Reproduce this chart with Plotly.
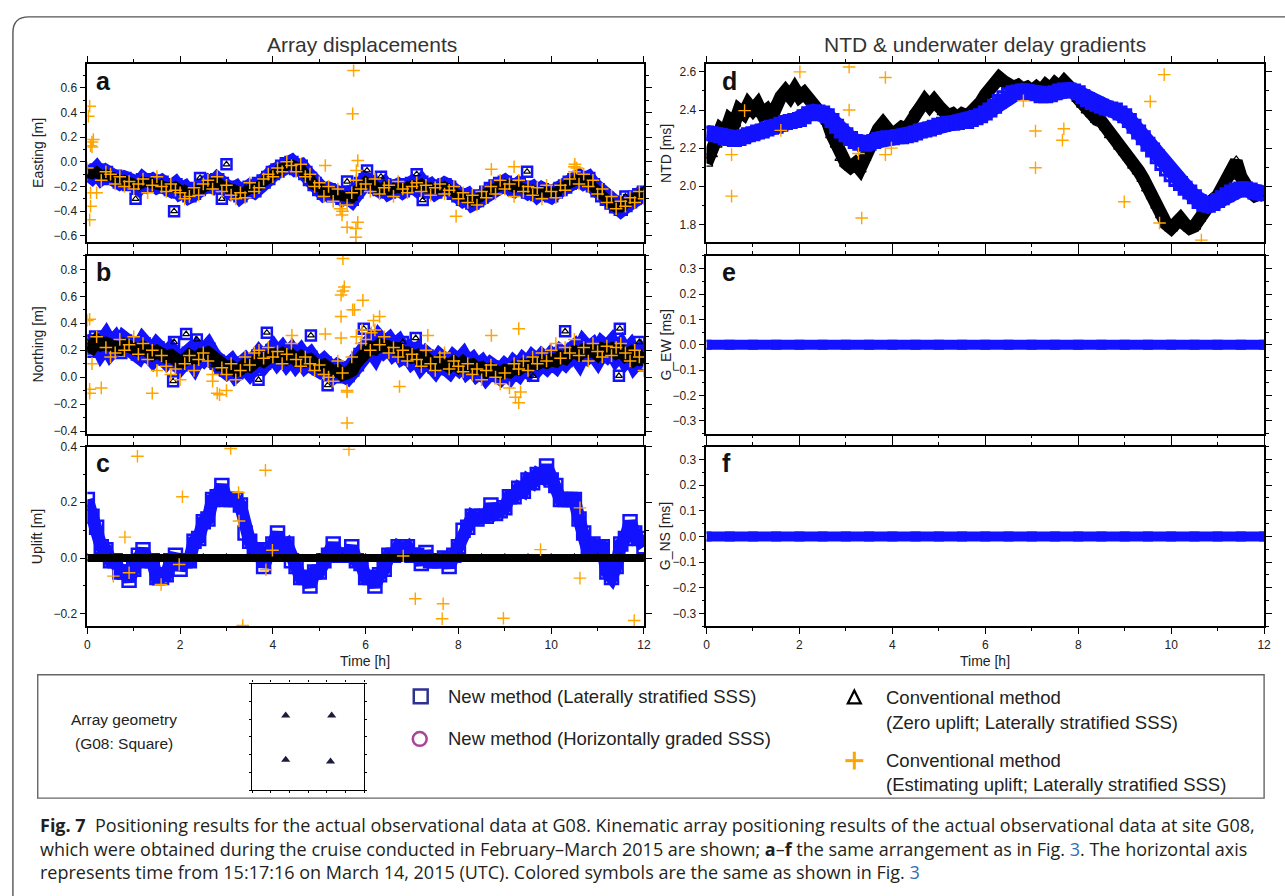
import plotly.graph_objects as go

W, H = 1285, 896


def px(x):
    return x / W


def py(y):
    return 1 - y / H


# ---------------- DATA ----------------
# time grid [h] for the dense series (0.1 h step) and a coarse grid for constant series
t = [round(0.1 * i, 1) for i in range(121)]
t_half = [0.0, 0.5, 1.0, 1.5, 2.0, 2.5, 3.0, 3.5, 4.0, 4.5, 5.0, 5.5, 6.0, 6.5, 7.0, 7.5, 8.0,
          8.5, 9.0, 9.5, 10.0, 10.5, 11.0, 11.5, 12.0]
zero_half = [0.0, 0.0, 0.0, 0.0, 0.0, 0.0, 0.0, 0.0, 0.0, 0.0, 0.0, 0.0, 0.0, 0.0, 0.0, 0.0, 0.0,
             0.0, 0.0, 0.0, 0.0, 0.0, 0.0, 0.0, 0.0]

# (a) Easting [m]
east_new = [
    -0.08, -0.11, -0.07, -0.12, -0.09, -0.13, -0.12, -0.16, -0.14, -0.18,
    -0.17, -0.20, -0.15, -0.18, -0.16, -0.19, -0.17, -0.20, -0.22, -0.19,
    -0.24, -0.22, -0.27, -0.25, -0.22, -0.20, -0.17, -0.19, -0.15, -0.18,
    -0.21, -0.24, -0.22, -0.27, -0.24, -0.21, -0.23, -0.18, -0.16, -0.13,
    -0.09, -0.07, -0.04, -0.02, -0.01, -0.05, -0.04, -0.09, -0.14, -0.18,
    -0.22, -0.25, -0.23, -0.27, -0.26, -0.29, -0.27, -0.30, -0.24, -0.18,
    -0.15, -0.17, -0.20, -0.22, -0.19, -0.24, -0.22, -0.20, -0.23, -0.19,
    -0.18, -0.21, -0.17, -0.22, -0.20, -0.24, -0.22, -0.19, -0.21, -0.25,
    -0.27, -0.30, -0.28, -0.33, -0.31, -0.28, -0.25, -0.22, -0.20, -0.18,
    -0.17, -0.20, -0.22, -0.19, -0.21, -0.24, -0.22, -0.26, -0.23, -0.25,
    -0.27, -0.24, -0.22, -0.20, -0.17, -0.15, -0.13, -0.16, -0.14, -0.19,
    -0.23, -0.27, -0.30, -0.33, -0.36, -0.38, -0.35, -0.32, -0.29, -0.27,
    -0.25]
east_conv0 = [
    -0.09, -0.10, -0.08, -0.11, -0.10, -0.12, -0.13, -0.15, -0.15, -0.17,
    -0.18, -0.19, -0.16, -0.17, -0.17, -0.18, -0.18, -0.21, -0.21, -0.20,
    -0.23, -0.23, -0.26, -0.24, -0.23, -0.21, -0.18, -0.18, -0.16, -0.19,
    -0.20, -0.23, -0.23, -0.26, -0.23, -0.22, -0.22, -0.19, -0.15, -0.12,
    -0.10, -0.06, -0.05, -0.03, -0.02, -0.04, -0.05, -0.10, -0.13, -0.19,
    -0.21, -0.24, -0.24, -0.26, -0.27, -0.28, -0.28, -0.29, -0.23, -0.19,
    -0.16, -0.18, -0.19, -0.23, -0.20, -0.23, -0.21, -0.21, -0.22, -0.20,
    -0.19, -0.20, -0.18, -0.21, -0.21, -0.23, -0.21, -0.20, -0.22, -0.24,
    -0.28, -0.29, -0.29, -0.32, -0.30, -0.27, -0.26, -0.23, -0.21, -0.19,
    -0.18, -0.19, -0.21, -0.20, -0.22, -0.23, -0.23, -0.25, -0.24, -0.24,
    -0.26, -0.25, -0.21, -0.19, -0.16, -0.14, -0.14, -0.15, -0.15, -0.20,
    -0.24, -0.26, -0.31, -0.34, -0.37, -0.37, -0.34, -0.31, -0.28, -0.26,
    -0.24]
east_up = [
    -0.05, 0.12, -0.25, -0.15, -0.08, -0.10, -0.18, -0.12, -0.20, -0.16,
    -0.22, -0.18, -0.14, -0.25, -0.19, -0.12, -0.20, -0.24, -0.18, -0.23,
    -0.25, -0.30, -0.28, -0.21, -0.27, -0.18, -0.15, -0.22, -0.12, -0.24,
    -0.19, -0.27, -0.30, -0.25, -0.29, -0.17, -0.24, -0.21, -0.14, -0.10,
    -0.12, -0.05, -0.08, 0.00, -0.03, -0.08, -0.02, -0.12, -0.10, -0.20,
    -0.17, -0.28, -0.20, -0.32, -0.22, -0.40, -0.35, -0.25, -0.15, -0.22,
    -0.18, -0.24, -0.14, -0.26, -0.21, -0.19, -0.28, -0.16, -0.22, -0.25,
    -0.20, -0.17, -0.24, -0.19, -0.27, -0.21, -0.18, -0.26, -0.23, -0.20,
    -0.30, -0.25, -0.33, -0.27, -0.35, -0.24, -0.29, -0.20, -0.26, -0.15,
    -0.22, -0.18, -0.28, -0.15, -0.24, -0.20, -0.27, -0.21, -0.30, -0.19,
    -0.24, -0.29, -0.19, -0.23, -0.14, -0.04, -0.18, -0.10, -0.20, -0.15,
    -0.26, -0.22, -0.33, -0.28, -0.38, -0.32, -0.36, -0.29, -0.33, -0.24,
    -0.30]
east_iso_t = [1.87, 1.04, 3.00, 2.43, 2.90, 5.60, 6.03, 6.33, 7.10, 7.23, 9.48, 11.60]
east_iso_v = [-0.40, -0.30, -0.02, -0.13, -0.30, -0.16, -0.07, -0.12, -0.10, -0.31, -0.08, -0.28]
east_up_out_t = [0.05, 0.02, 0.13, 0.07, 0.10, 0.07, 0.07, 0.05, 5.74, 5.72, 5.60, 5.79, 5.79,
                 5.83, 5.83, 5.80, 5.13, 5.49, 5.45, 8.71, 9.20, 7.95, 10.51, 10.50, 10.55]
east_up_out_v = [0.45, 0.37, 0.18, 0.13, 0.16, -0.25, -0.36, -0.47, 0.74, 0.39, -0.53, -0.54, -0.61,
                 -0.49, 0.01, -0.07, -0.03, -0.43, -0.38, -0.06, -0.04, -0.44, -0.02, -0.08, -0.05]

# (b) Northing [m]
north_new = [
    0.26, 0.20, 0.29, 0.22, 0.27, 0.21, 0.25, 0.19, 0.26, 0.22,
    0.23, 0.18, 0.24, 0.20, 0.16, 0.21, 0.17, 0.14, 0.18, 0.12,
    0.10, 0.14, 0.17, 0.12, 0.19, 0.16, 0.20, 0.14, 0.11, 0.08,
    0.06, 0.09, 0.04, 0.07, 0.10, 0.06, 0.12, 0.15, 0.11, 0.17,
    0.19, 0.14, 0.18, 0.13, 0.17, 0.12, 0.16, 0.11, 0.14, 0.09,
    0.07, 0.10, 0.05, 0.03, 0.06, 0.01, 0.02, 0.06, 0.10, 0.16,
    0.20, 0.24, 0.19, 0.26, 0.22, 0.25, 0.20, 0.23, 0.17, 0.19,
    0.14, 0.17, 0.11, 0.15, 0.12, 0.08, 0.13, 0.10, 0.07, 0.12,
    0.09, 0.13, 0.07, 0.10, 0.05, 0.08, 0.03, 0.07, 0.04, 0.02,
    0.06, 0.03, 0.08, 0.05, 0.10, 0.07, 0.12, 0.09, 0.13, 0.10,
    0.14, 0.11, 0.16, 0.13, 0.17, 0.20, 0.15, 0.22, 0.18, 0.21,
    0.16, 0.22, 0.19, 0.23, 0.17, 0.21, 0.15, 0.19, 0.12, 0.16,
    0.10]
north_conv0 = [
    0.24, 0.22, 0.27, 0.24, 0.25, 0.23, 0.23, 0.21, 0.24, 0.23,
    0.21, 0.20, 0.22, 0.19, 0.17, 0.19, 0.16, 0.15, 0.16, 0.13,
    0.11, 0.13, 0.16, 0.14, 0.17, 0.17, 0.18, 0.15, 0.10, 0.07,
    0.07, 0.08, 0.05, 0.06, 0.09, 0.08, 0.11, 0.14, 0.12, 0.16,
    0.17, 0.15, 0.17, 0.14, 0.16, 0.13, 0.15, 0.12, 0.13, 0.10,
    0.08, 0.09, 0.06, 0.04, 0.05, 0.02, 0.03, 0.05, 0.11, 0.15,
    0.21, 0.22, 0.21, 0.24, 0.23, 0.23, 0.21, 0.21, 0.18, 0.18,
    0.15, 0.16, 0.12, 0.14, 0.11, 0.09, 0.12, 0.09, 0.08, 0.11,
    0.08, 0.11, 0.08, 0.09, 0.06, 0.07, 0.04, 0.06, 0.03, 0.03,
    0.05, 0.04, 0.07, 0.06, 0.09, 0.08, 0.11, 0.10, 0.12, 0.11,
    0.13, 0.12, 0.15, 0.14, 0.18, 0.19, 0.17, 0.20, 0.19, 0.20,
    0.17, 0.21, 0.20, 0.21, 0.18, 0.20, 0.16, 0.18, 0.13, 0.15,
    0.11]
north_up = [
    0.42, 0.10, 0.30, -0.08, 0.22, 0.15, 0.18, 0.28, 0.20, 0.24,
    0.30, 0.17, 0.25, 0.13, 0.20, 0.05, 0.16, 0.08, 0.02, 0.06,
    -0.02, 0.10, 0.16, 0.05, 0.13, 0.18, 0.12, 0.02, -0.12, 0.07,
    0.02, 0.10, -0.02, 0.05, 0.15, 0.09, 0.18, 0.20, 0.14, 0.22,
    0.15, 0.19, 0.10, 0.17, 0.25, 0.13, 0.08, 0.15, 0.10, 0.05,
    0.09, 0.02, 0.00, -0.03, 0.12, 0.03, -0.10, 0.15, 0.30, 0.25,
    0.28, 0.20, 0.35, 0.24, 0.30, 0.18, 0.22, 0.15, 0.20, 0.12,
    0.17, 0.13, 0.08, 0.20, 0.10, 0.05, 0.15, 0.18, 0.06, 0.12,
    0.08, 0.04, 0.10, 0.02, 0.06, -0.02, 0.05, 0.09, 0.00, -0.05,
    0.03, -0.08, 0.10, 0.06, 0.12, 0.05, 0.15, 0.10, 0.18, 0.12,
    0.20, 0.25, 0.14, 0.22, 0.18, 0.28, 0.16, 0.22, 0.12, 0.25,
    0.19, 0.15, 0.23, 0.16, 0.22, 0.25, 0.18, 0.12, 0.20, 0.15,
    0.05]
north_iso_t = [1.85, 1.87, 2.13, 2.36, 3.87, 3.69, 4.82, 5.18, 5.63, 5.96, 6.80, 7.08, 9.61,
               10.30, 11.48, 11.46, 11.90]
north_iso_v = [-0.03, 0.26, 0.32, 0.28, 0.33, -0.02, 0.31, -0.06, 0.02, 0.36, 0.26, 0.29, 0.01,
               0.34, 0.36, 0.01, 0.26]
north_up_out_t = [5.51, 5.51, 5.54, 5.47, 5.94, 5.72, 5.76, 5.47, 6.17, 6.30, 5.92, 6.12, 5.60,
                  5.60, 5.47, 9.30, 9.30, 9.23, 9.34, 2.85, 3.00, 6.73, 0.05, 0.05, 0.05, 4.41,
                  7.34, 8.71, 5.13, 1.40, 2.70]
north_up_out_v = [0.88, 0.64, 0.67, 0.61, 0.57, 0.50, 0.50, 0.45, 0.42, 0.45, 0.35, 0.33, -0.34,
                  -0.11, 0.29, 0.36, -0.19, -0.15, -0.11, -0.13, -0.10, -0.07, -0.09, -0.12, 0.43,
                  0.31, 0.31, 0.31, 0.32, -0.12, -0.03]

# (c) Uplift [m]
uplift_new = [
    0.21, 0.15, 0.11, 0.04, 0.03, -0.01, -0.01, -0.05, -0.05, -0.08,
    -0.04, 0.01, 0.03, -0.01, -0.01, -0.07, -0.07, -0.06, -0.01, 0.01,
    -0.04, -0.01, -0.01, 0.06, 0.07, 0.13, 0.14, 0.21, 0.22, 0.26,
    0.21, 0.21, 0.21, 0.19, 0.09, 0.06, 0.03, 0.03, -0.03, 0.03,
    0.05, 0.09, 0.04, 0.05, -0.01, -0.03, -0.07, -0.07, -0.10, -0.05,
    -0.05, -0.01, 0.01, 0.05, 0.01, 0.01, 0.01, 0.04, -0.01, -0.02,
    -0.07, -0.07, -0.10, -0.06, -0.04, 0.01, 0.01, 0.04, 0.03, 0.04,
    0.01, 0.01, -0.02, 0.02, -0.01, -0.01, -0.01, 0.00, -0.03, 0.01,
    0.04, 0.10, 0.11, 0.15, 0.14, 0.15, 0.15, 0.19, 0.16, 0.17,
    0.18, 0.22, 0.22, 0.25, 0.24, 0.28, 0.27, 0.30, 0.29, 0.33,
    0.28, 0.26, 0.21, 0.21, 0.21, 0.21, 0.14, 0.09, 0.02, 0.05,
    0.04, 0.04, -0.05, -0.07, -0.03, 0.05, 0.07, 0.13, 0.09, 0.07,
    0.04]
uplift_conv0 = zero_half
uplift_up_t = [0.81, 1.08, 2.05, 0.56, 0.90, 1.59, 1.98, 3.09, 3.26, 3.27, 3.84, 3.85, 3.99,
               3.35, 5.64, 6.81, 7.07, 7.67, 7.65, 8.97, 9.77, 10.62, 10.62, 11.79]
uplift_up_v = [0.075, 0.365, 0.22, -0.065, -0.053, -0.095, -0.023, 0.393, 0.235, 0.133, 0.315,
               -0.042, 0.028, -0.242, 0.39, 0.007, -0.146, -0.164, -0.218, -0.216, 0.03, 0.18,
               -0.072, -0.224]

# (d) NTD [ms]
ntd_new = [
    2.280, 2.275, 2.270, 2.265, 2.255, 2.250, 2.245, 2.250, 2.260, 2.270,
    2.275, 2.285, 2.290, 2.300, 2.310, 2.315, 2.325, 2.335, 2.340, 2.345,
    2.350, 2.365, 2.380, 2.390, 2.390, 2.385, 2.370, 2.345, 2.315, 2.290,
    2.270, 2.250, 2.235, 2.225, 2.220, 2.225, 2.235, 2.245, 2.250, 2.255,
    2.255, 2.260, 2.260, 2.265, 2.270, 2.280, 2.290, 2.295, 2.300, 2.310,
    2.320, 2.325, 2.330, 2.330, 2.335, 2.340, 2.340, 2.350, 2.360, 2.370,
    2.385, 2.400, 2.420, 2.445, 2.465, 2.480, 2.490, 2.495, 2.500, 2.495,
    2.490, 2.485, 2.475, 2.475, 2.480, 2.490, 2.500, 2.505, 2.505, 2.500,
    2.490, 2.470, 2.455, 2.440, 2.430, 2.420, 2.410, 2.405, 2.400, 2.385,
    2.370, 2.345, 2.315, 2.285, 2.255, 2.220, 2.190, 2.155, 2.120, 2.090,
    2.060, 2.035, 2.015, 1.990, 1.970, 1.945, 1.920, 1.905, 1.900, 1.910,
    1.925, 1.940, 1.955, 1.970, 1.980, 1.985, 1.985, 1.980, 1.970, 1.965,
    1.960]
ntd_conv0 = [
    2.12, 2.17, 2.22, 2.30, 2.28, 2.35, 2.33, 2.40, 2.38, 2.43,
    2.40, 2.43, 2.38, 2.40, 2.36, 2.44, 2.47, 2.50, 2.47, 2.51,
    2.47, 2.49, 2.46, 2.44, 2.41, 2.38, 2.34, 2.27, 2.22, 2.15,
    2.12, 2.10, 2.12, 2.09, 2.15, 2.22, 2.27, 2.30, 2.33, 2.30,
    2.27, 2.29, 2.31, 2.30, 2.34, 2.40, 2.43, 2.45, 2.42, 2.45,
    2.42, 2.39, 2.37, 2.38, 2.36, 2.38, 2.37, 2.39, 2.41, 2.44,
    2.48, 2.52, 2.55, 2.57, 2.55, 2.53, 2.52, 2.53, 2.51, 2.52,
    2.50, 2.52, 2.50, 2.53, 2.51, 2.54, 2.52, 2.55, 2.53, 2.50,
    2.46, 2.43, 2.40, 2.38, 2.35, 2.34, 2.31, 2.27, 2.25, 2.21,
    2.18, 2.15, 2.11, 2.08, 2.04, 1.99, 1.95, 1.90, 1.85, 1.80,
    1.78, 1.80, 1.83, 1.80, 1.78, 1.79, 1.83, 1.87, 1.90, 1.93,
    1.95, 1.99, 2.05, 2.10, 2.13, 2.05, 2.00, 1.97, 1.95, 1.96,
    1.95]
ntd_up_t = [0.54, 0.54, 0.82, 1.60, 2.01, 3.07, 3.07, 3.27, 3.34, 3.85, 3.85, 3.98, 6.82, 7.08,
            7.08, 7.69, 7.66, 8.99, 9.55, 9.85, 9.75, 10.65]
ntd_up_v = [2.166, 1.948, 2.397, 2.293, 2.60, 2.626, 2.40, 2.172, 1.833, 2.571, 2.166, 2.20,
            2.448, 2.29, 2.097, 2.302, 2.241, 1.919, 2.445, 2.586, 1.807, 1.717]

# (e), (f) underwater delay gradients [ms]
gew_new = zero_half
gns_new = zero_half

# array geometry (G08, square), normalised transponder positions
geom_x = [-0.40, 0.42, -0.40, 0.40]
geom_y = [0.40, 0.40, -0.43, -0.46]

# ---------------- STYLE ----------------
BLUE = "#1212ff"
ORANGE = "#ffa500"
FONT = "Liberation Sans, Arial, sans-serif"

fig = go.Figure()


def sq(x, y, ax, size=9, lw=2.2, mode="markers", linew=0):
    d = dict(x=x, y=y, xaxis="x" + ax, yaxis="y" + ax, mode=mode, showlegend=False,
             hoverinfo="skip",
             marker=dict(symbol="square-open", size=size, color=BLUE, line=dict(width=lw, color=BLUE)))
    if linew:
        d["line"] = dict(color=BLUE, width=linew)
    fig.add_trace(go.Scatter(**d))


def tri(x, y, ax, size=7, lw=1.3, mode="markers", linew=0):
    d = dict(x=x, y=y, xaxis="x" + ax, yaxis="y" + ax, mode=mode, showlegend=False,
             hoverinfo="skip",
             marker=dict(symbol="triangle-up-open", size=size, color="black",
                         line=dict(width=lw, color="black")))
    if linew:
        d["line"] = dict(color="black", width=linew)
    fig.add_trace(go.Scatter(**d))


def cross(x, y, ax, size=8, lw=1.3):
    fig.add_trace(go.Scatter(x=x, y=y, xaxis="x" + ax, yaxis="y" + ax, mode="markers",
                             showlegend=False, hoverinfo="skip",
                             marker=dict(symbol="cross-thin-open", size=size, color=ORANGE,
                                         line=dict(width=lw, color=ORANGE))))


# panel a (axis "")
sq(t, east_new, "", size=12, lw=2.5, mode="lines+markers", linew=17)
sq(east_iso_t, east_iso_v, "", size=10, lw=2.5)
tri(t, east_conv0, "", size=10, lw=1.4, mode="lines+markers", linew=10)
tri(east_iso_t, east_iso_v, "", size=6, lw=1.2)
cross(t, east_up, "", size=9, lw=1.5)
cross(east_up_out_t, east_up_out_v, "", size=9, lw=1.5)

# panel b
sq(t, north_new, "2", size=13, lw=2.5, mode="lines+markers", linew=20)
sq(north_iso_t, north_iso_v, "2", size=10, lw=2.5)
tri(t, north_conv0, "2", size=11, lw=1.4, mode="lines+markers", linew=13)
tri(north_iso_t, north_iso_v, "2", size=6, lw=1.2)
cross(t, north_up, "2", size=9, lw=1.5)
cross(north_up_out_t, north_up_out_v, "2", size=9, lw=1.5)

# panel c
sq(t, uplift_new, "3", size=13, lw=2.5, mode="lines+markers", linew=13)
tri(t_half, uplift_conv0, "3", size=8, mode="lines+markers", linew=8)
cross(uplift_up_t, uplift_up_v, "3", size=9, lw=1.4)

# panel d
tri(t, ntd_conv0, "4", size=11, lw=1.3, mode="lines+markers", linew=13)
sq(t, ntd_new, "4", size=12, lw=3, mode="lines+markers", linew=16)
cross(ntd_up_t, ntd_up_v, "4", size=9, lw=1.4)

# panels e, f
sq(t_half, gew_new, "5", size=8, lw=2, mode="lines+markers", linew=10)
sq(t_half, gns_new, "6", size=8, lw=2, mode="lines+markers", linew=10)

# array geometry
fig.add_trace(go.Scatter(x=geom_x, y=geom_y, xaxis="x7", yaxis="y7", mode="markers",
                         showlegend=False, hoverinfo="skip",
                         marker=dict(symbol="triangle-up", size=8, color="#1b1b3a")))

# ---------------- AXES ----------------
tickfont = dict(family=FONT, size=12, color="#222")


def xax(dom, anchor, labels):
    return dict(domain=dom, anchor=anchor, range=[0, 12], dtick=2, tick0=0,
                showline=True, linecolor="black", linewidth=1.6, mirror="ticks",
                ticks="outside", ticklen=6, tickwidth=1.2, tickcolor="black",
                showticklabels=labels, showgrid=False, zeroline=False, tickfont=tickfont,
                minor=dict(dtick=1, tick0=0, ticks="outside", ticklen=3, tickwidth=1.0,
                           tickcolor="black", showgrid=False))


def yax(dom, anchor, rng, dt, mdt):
    return dict(domain=dom, anchor=anchor, range=rng, dtick=dt, tick0=0, tickformat=".1f",
                showline=True, linecolor="black", linewidth=1.6, mirror="ticks",
                ticks="outside", ticklen=6, tickwidth=1.2, tickcolor="black",
                showgrid=False, zeroline=False, tickfont=tickfont,
                minor=dict(dtick=mdt, tick0=0, ticks="outside", ticklen=3, tickwidth=1.0,
                           tickcolor="black", showgrid=False))


XL = [px(85), px(646)]
XR = [px(709), px(1271)]
YA = [py(238), py(58)]
YB = [py(432), py(252)]
YC = [py(627), py(445)]

layout = dict(
    width=W, height=H, margin=dict(l=0, r=0, t=0, b=0),
    paper_bgcolor="white", plot_bgcolor="white", showlegend=False,
    font=dict(family=FONT, color="#222"),
    xaxis=xax(XL, "y", False), yaxis=yax(YA, "x", [-0.65, 0.79], 0.2, 0.1),
    xaxis2=xax(XL, "y2", False), yaxis2=yax(YB, "x2", [-0.42, 0.90], 0.2, 0.1),
    xaxis3=xax(XL, "y3", True), yaxis3=yax(YC, "x3", [-0.245, 0.40], 0.2, 0.1),
    xaxis4=xax(XR, "y4", False), yaxis4=yax(YA, "x4", [1.707, 2.64], 0.2, 0.1),
    xaxis5=xax(XR, "y5", False), yaxis5=yax(YB, "x5", [-0.35, 0.35], 0.1, 0.05),
    xaxis6=xax(XR, "y6", True), yaxis6=yax(YC, "x6", [-0.35, 0.35], 0.1, 0.05),
    xaxis7=dict(domain=[px(251), px(364)], anchor="y7", range=[-1, 1], dtick=1 / 3, tick0=-1,
                showline=True, linecolor="black", linewidth=1.4, mirror="ticks",
                ticks="outside", ticklen=2, tickwidth=1, tickcolor="black",
                showticklabels=False, showgrid=False, zeroline=False),
    yaxis7=dict(domain=[py(793), py(685)], anchor="x7", range=[-1, 1], dtick=1 / 3, tick0=-1,
                showline=True, linecolor="black", linewidth=1.4, mirror="ticks",
                ticks="outside", ticklen=2, tickwidth=1, tickcolor="black",
                showticklabels=False, showgrid=False, zeroline=False),
)
fig.update_layout(**layout)

# ---------------- ANNOTATIONS ----------------
ann = []


def text(x, y, s, size=14, xanchor="center", angle=0, bold=False, family=FONT, color="#222"):
    ann.append(dict(x=px(x), y=py(y), xref="paper", yref="paper", text=("<b>%s</b>" % s) if bold else s,
                    showarrow=False, xanchor=xanchor, yanchor="middle", textangle=angle,
                    font=dict(family=family, size=size, color=color)))


text(362, 38, "Array displacements", size=21, color="#333")
text(990, 38, "NTD &amp; underwater delay gradients", size=21, color="#333")
for lab, x, y in [("a", 92, 75), ("b", 92, 268), ("c", 92, 462),
                  ("d", 723, 75), ("e", 723, 268), ("f", 723, 462)]:
    text(x, y, lab, size=25, xanchor="left", bold=True, color="#111")
for lab, x, y in [("Easting [m]", 35, 148), ("Northing [m]", 35, 342), ("Uplift [m]", 35, 536),
                  ("NTD [ms]", 668, 148), ("G_EW [ms]", 668, 342), ("G_NS [ms]", 668, 536)]:
    text(x, y, lab, size=14, angle=-90)
text(365, 662, "Time [h]", size=14)
text(990, 662, "Time [h]", size=14)

# legend texts
LG = 18.5
text(122, 721, "Array geometry", size=15.5)
text(122, 746, "(G08: Square)", size=15.5)
text(446, 698, "New method (Laterally stratified SSS)", size=LG, xanchor="left")
text(446, 741, "New method (Horizontally graded SSS)", size=LG, xanchor="left")
text(888, 699, "Conventional method", size=LG, xanchor="left")
text(888, 724, "(Zero uplift; Laterally stratified SSS)", size=LG, xanchor="left")
text(888, 763, "Conventional method", size=LG, xanchor="left")
text(888, 787, "(Estimating uplift; Laterally stratified SSS)", size=LG, xanchor="left")

# caption
CAP = "Open Sans, Noto Sans, sans-serif"
CS = 18
LINK = "<span style='color:#2f6fb7'>3</span>"
text(35, 828, "<b>Fig. 7</b>  Positioning results for the actual observational data at G08. Kinematic array "
              "positioning results of the actual observational data at site G08,",
     size=CS, xanchor="left", family=CAP, color="#231f20")
text(35, 852, "which were obtained during the cruise conducted in February–March 2015 are shown; "
              "<b>a</b>–<b>f</b> the same arrangement as in Fig. " + LINK + ". The horizontal axis",
     size=CS, xanchor="left", family=CAP, color="#231f20")
text(35, 876, "represents time from 15:17:16 on March 14, 2015 (UTC). Colored symbols are the same "
              "as shown in Fig. " + LINK,
     size=CS, xanchor="left", family=CAP, color="#231f20")

# ---------------- SHAPES ----------------
shapes = []
frame_path = "M %f,%f L %f,%f Q %f,%f %f,%f L %f,%f" % (
    px(10), py(905), px(10), py(26), px(10), py(10), px(26), py(10), px(1295), py(10))
shapes.append(dict(type="path", path=frame_path, xref="paper", yref="paper",
                   line=dict(color="#555", width=1.4)))
shapes.append(dict(type="rect", xref="paper", yref="paper", x0=px(35), x1=px(1271),
                   y0=py(801), y1=py(676), line=dict(color="#666", width=1.4)))
# legend symbols
shapes.append(dict(type="rect", xref="paper", yref="paper", x0=px(414), x1=px(428),
                   y0=py(705), y1=py(691), line=dict(color="#2e3192", width=2.5)))
shapes.append(dict(type="circle", xref="paper", yref="paper", x0=px(413), x1=px(427),
                   y0=py(748), y1=py(734), line=dict(color="#a8449a", width=2.5)))
shapes.append(dict(type="path", xref="paper", yref="paper",
                   path="M %f,%f L %f,%f L %f,%f Z" % (px(851.5), py(705), px(864.5), py(705),
                                                      px(858), py(692)),
                   line=dict(color="black", width=2.3)))
shapes.append(dict(type="line", xref="paper", yref="paper", x0=px(858), x1=px(858),
                   y0=py(772), y1=py(754), line=dict(color=ORANGE, width=3)))
shapes.append(dict(type="line", xref="paper", yref="paper", x0=px(849), x1=px(867),
                   y0=py(763), y1=py(763), line=dict(color=ORANGE, width=3)))

fig.update_layout(annotations=ann, shapes=shapes)
fig.write_html("out.html")
